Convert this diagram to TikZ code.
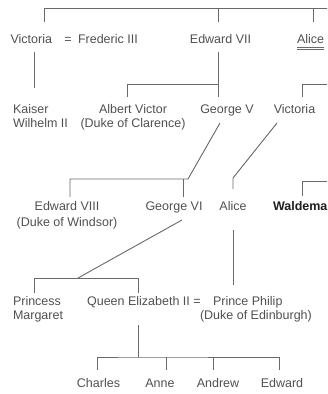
\documentclass[tikz,border=0pt]{standalone}
\usepackage{fontspec}
\setmainfont{Liberation Sans}
\usepackage{tikz}
\usetikzlibrary{positioning, calc}
\definecolor{inkgray}{RGB}{80,80,80}
\definecolor{linegray}{RGB}{105,105,105}
\definecolor{darkink}{RGB}{30,30,30}
\tikzset{
    person/.style={inner sep=0pt, outer sep=0pt, text=inkgray, anchor=base,
                   font=\fontsize{12.5}{14}\selectfont},
    lperson/.style={person, anchor=base west, align=left},
    cperson/.style={person, align=center},
    wedsign/.style={person},
    kin/.style={draw=linegray, line width=0.9pt},
    wedline/.style={draw=linegray, line width=0.8pt, double, double distance=1.2pt},
}

\begin{document}
\begin{tikzpicture}[x=1pt, y=-1pt]
        \useasboundingbox (0,0) rectangle (327,394);
        \clip (0,0) rectangle (327,394);
        \node[person, anchor=base east] (vica) at (52,43) {Victoria};
        \node[wedsign] (wedvf) at (68,43) {=};
        \node[person, anchor=base west] (fred) at (78,43) {Frederic III};
        \node[person] (edw7) at (220.5,43) {Edward VII};
        \node[person, anchor=base west] (alicea) at (297,43) {Alice};
        \node[lperson] (kaiser) at (13,127) {Kaiser\\Wilhelm II};
        \node[cperson] (albert) at (133,127) {Albert Victor\\(Duke of Clarence)};
        \node[person] (geo5) at (227,113) {George V};
        \node[person] (vicb) at (294.5,113) {Victoria};
        \node[cperson] (edw8) at (67,226) {Edward VIII\\[2pt](Duke of Windsor)};
        \node[person] (geo6) at (174,210) {George VI};
        \node[person] (aliceb) at (233,210) {Alice};
        \node[person, anchor=base west, text=darkink, font=\fontsize{12.5}{14}\selectfont\bfseries] (waldemar) at (273,210) {Waldemar};
        \node[lperson] (margaret) at (13,319) {Princess\\Margaret};
        \node[person] (eliz) at (138.5,305) {Queen Elizabeth II};
        \node[wedsign] (wedep) at (197,305) {=};
        \node[lperson] (philip) at (200,319) {\hspace*{13pt}Prince Philip\\(Duke of Edinburgh)};
        \node[person] (charles) at (98.5,387) {Charles};
        \node[person] (anne) at (160,387) {Anne};
        \node[person] (andrew) at (218,387) {Andrew};
        \node[person] (edward) at (282,387) {Edward};
        \coordinate (topbar) at (330,8);
        \coordinate (vicadrop) at (44,22);
        \coordinate (edw7drop) at (218,22);
        \coordinate (aliceadrop) at (313,22);
        \coordinate (kaisertop) at (34,52);
        \coordinate (kaiserend) at (34,88);
        \coordinate (edw7down) at (218,52);
        \coordinate (edw7bar) at (218,84);
        \coordinate (alberttop) at (127,97);
        \coordinate (geo5top) at (218,97);
        \coordinate (rightbara) at (330,84);
        \coordinate (vicbtop) at (302,97);
        \coordinate (geo5diag) at (220,123);
        \coordinate (geo5bend) at (188,179);
        \coordinate (edw8bar) at (70,179);
        \coordinate (edw8top) at (70,197);
        \coordinate (geo6bar) at (183,179);
        \coordinate (geo6top) at (183,197);
        \coordinate (vicbdiag) at (277,123);
        \coordinate (vicbbend) at (233,178);
        \coordinate (alicebtop) at (233,189);
        \coordinate (rightbarb) at (330,181);
        \coordinate (waldtop) at (302,196);
        \coordinate (geo6diag) at (182,220);
        \coordinate (geo6bend) at (78,278);
        \coordinate (margbar) at (34,278);
        \coordinate (margtop) at (34,293);
        \coordinate (elizbar) at (138,278);
        \coordinate (eliztop) at (138,293);
        \coordinate (alicebdown) at (233,230);
        \coordinate (philiptop) at (233,285);
        \coordinate (elizdown) at (138,325);
        \coordinate (kidsbar) at (138,357);
        \coordinate (charlestop) at (97,370);
        \coordinate (annetop) at (166,370);
        \coordinate (andrewtop) at (213,370);
        \coordinate (edwardtop) at (279,370);
        \draw[kin] (vicadrop) |- (topbar);
        \draw[kin] (edw7drop) -- (edw7drop |- topbar);
        \draw[kin] (aliceadrop) -- (aliceadrop |- topbar);
        \draw[wedline] ([yshift=-5pt]alicea.south west) -- ([yshift=-5pt]alicea.south east);
        \draw[kin] (kaisertop) -- (kaiserend);
        \draw[kin] (edw7down) -- (geo5top);
        \draw[kin] (edw7bar) -| (alberttop);
        \draw[kin] (rightbara) -| (vicbtop);
        \draw[kin] (geo5diag) -- (geo5bend) -- (edw8bar) -- (edw8top);
        \draw[kin] (geo6bar) -- (geo6top);
        \draw[kin] (vicbdiag) -- (vicbbend) -- (alicebtop);
        \draw[kin] (rightbarb) -| (waldtop);
        \draw[kin] (geo6diag) -- (geo6bend);
        \draw[kin] (margtop) -- (margbar) -- (elizbar) -- (eliztop);
        \draw[kin] (alicebdown) -- (philiptop);
        \draw[kin] (elizdown) -- (kidsbar);
        \draw[kin] (charlestop) |- (kidsbar) -| (edwardtop);
        \draw[kin] (annetop) -- (annetop |- kidsbar);
        \draw[kin] (andrewtop) -- (andrewtop |- kidsbar);
    \end{tikzpicture}
\end{document}
